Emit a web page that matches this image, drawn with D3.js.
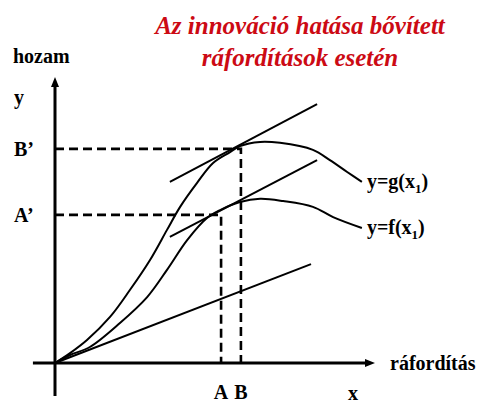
<!DOCTYPE html>
<html>
<head>
<meta charset="utf-8">
<script src="https://cdn.jsdelivr.net/npm/d3@7"></script>
<style>
  html, body { margin: 0; padding: 0; background: #fff; }
  svg { display: block; }
</style>
</head>
<body>
<div id="chart"></div>
<script>
// ---- data (abstract units: ráfordítás x, hozam y) ----
const titleLines = ["Az innováció hatása bővített", "ráfordítások esetén"];

// y = g(x1): production function after innovation
const gCurve = [[0,0],[4.7,3.1],[10,7.2],[17.2,14.4],[23.4,22.8],[29.7,32.2],[35,41.6],
  [39.1,48.8],[44.4,56.3],[49.4,62.5],[54.7,65.9],[57.8,67.8],[64.1,69.1],[70.3,68.8],
  [80.6,66.6],[85.9,63.4],[91.3,59.7],[95.9,56.6]];
// y = f(x1): original production function
const fCurve = [[0,0],[4.7,2.5],[10.9,5],[20.3,12.5],[28.8,20.6],[35,29.1],[41.3,38.4],
  [47.5,45.3],[51.6,47.8],[57.8,50.3],[64.1,51.3],[71.3,50.6],[80.6,48.8],[86.9,45.6],[95.9,42.2]];

// straight lines (tangents and ray from the origin)
const tangentG = [[35.9,56.6],[81.9,80.9]];
const tangentF = [[35.9,39.4],[81.9,63.4]];
const originRay = [[0,0],[80,30.9]];

// marked points
const pointA = {x: 51.9, y: 46.3, xLabel: "A", yLabel: "A’"};
const pointB = {x: 58.1, y: 66.9, xLabel: "B", yLabel: "B’"};

const curveLabels = [
  {name: "y=g(x", sub: "1", end: gCurve[gCurve.length - 1]},
  {name: "y=f(x", sub: "1", end: fCurve[fCurve.length - 1]}
];
const xAxisExtent = [-6.9, 100];
const yAxisExtent = [-10.3, 89.4];

// ---- drawing ----
const W = 477, H = 403;
const FONT = "Liberation Serif";
const svg = d3.select("#chart").append("svg").attr("width", W).attr("height", H);

const x = d3.scaleLinear().domain([0, 100]).range([55, 375]);
const y = d3.scaleLinear().domain([0, 100]).range([363, 43]);

function serif(sel) {
  return sel.attr("font-family", FONT).style("font-family", "'Liberation Serif', serif", "important");
}

// title
const title = serif(svg.append("text"))
  .attr("x", 300).attr("y", 34)
  .attr("text-anchor", "middle")
  .attr("fill", "#cc0a14")
  .attr("font-weight", "bold")
  .attr("font-style", "italic")
  .attr("font-size", 25);
titleLines.forEach((t, i) => {
  title.append("tspan").attr("x", 300).attr("dy", i === 0 ? 0 : 32).text(t);
});

// axes
const axisW = 3;
svg.append("line")
  .attr("x1", x(xAxisExtent[0])).attr("x2", x(xAxisExtent[1]) - 8)
  .attr("y1", y(0)).attr("y2", y(0))
  .attr("stroke", "#000").attr("stroke-width", axisW);
svg.append("path")
  .attr("d", `M${x(xAxisExtent[1])},${y(0)} L${x(xAxisExtent[1]) - 10},${y(0) - 4} L${x(xAxisExtent[1]) - 10},${y(0) + 4} Z`)
  .attr("fill", "#000");

svg.append("line")
  .attr("x1", x(0)).attr("x2", x(0))
  .attr("y1", y(yAxisExtent[0])).attr("y2", y(yAxisExtent[1]) + 8)
  .attr("stroke", "#000").attr("stroke-width", axisW);
svg.append("path")
  .attr("d", `M${x(0)},${y(yAxisExtent[1])} L${x(0) - 4},${y(yAxisExtent[1]) + 10} L${x(0) + 4},${y(yAxisExtent[1]) + 10} Z`)
  .attr("fill", "#000");

// dashed guides
[pointA, pointB].forEach(p => {
  svg.append("path")
    .attr("d", `M${x(0)},${y(p.y)} H${x(p.x)} V${y(0)}`)
    .attr("fill", "none")
    .attr("stroke", "#000").attr("stroke-width", 2.6)
    .attr("stroke-dasharray", "9,5");
});

// curves
const lineGen = d3.line().x(d => x(d[0])).y(d => y(d[1])).curve(d3.curveCatmullRom.alpha(0.5));
const straight = d3.line().x(d => x(d[0])).y(d => y(d[1]));

[gCurve, fCurve].forEach(c => {
  svg.append("path").attr("d", lineGen(c))
    .attr("fill", "none").attr("stroke", "#000").attr("stroke-width", 2);
});
[tangentG, tangentF, originRay].forEach(l => {
  svg.append("path").attr("d", straight(l))
    .attr("fill", "none").attr("stroke", "#000").attr("stroke-width", 2);
});

// labels
function label(txt, px, py, anchor) {
  return serif(svg.append("text")).attr("x", px).attr("y", py)
    .attr("text-anchor", anchor || "start")
    .attr("font-weight", "bold")
    .attr("font-size", 20).attr("fill", "#000").text(txt);
}
label("hozam", 13, 63);
label("y", 14, 104);
label("ráfordítás", 390, 370);
label("x", 348, 400);
[pointA, pointB].forEach(p => {
  label(p.yLabel, 14, y(p.y) + 7);
  label(p.xLabel, x(p.x), 399, "middle");
});

curveLabels.forEach(cl => {
  const t = serif(svg.append("text"))
    .attr("x", x(cl.end[0]) + 5).attr("y", y(cl.end[1]) + 6)
    .attr("font-weight", "bold")
    .attr("font-size", 20).attr("fill", "#000");
  t.append("tspan").text(cl.name);
  t.append("tspan").attr("dy", 5).attr("font-size", 13).text(cl.sub);
  t.append("tspan").attr("dy", -5).text(")");
});
</script>
</body>
</html>
